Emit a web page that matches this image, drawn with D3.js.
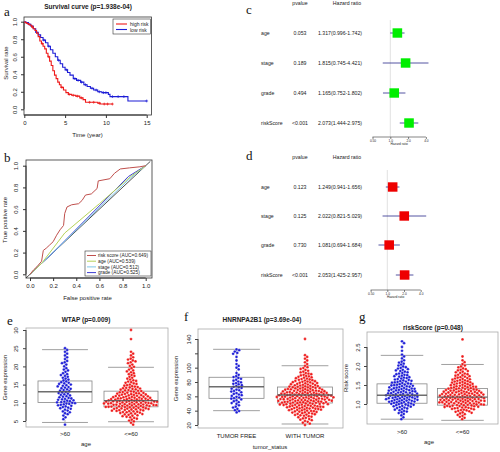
<!DOCTYPE html>
<html><head><meta charset="utf-8">
<script src="https://cdn.jsdelivr.net/npm/d3@7"></script>
<style>body{margin:0;background:#fff}svg{display:block}text{font-family:"Liberation Sans",Arial,sans-serif;fill:#222}</style>
</head><body><svg id="chart" width="500" height="452"></svg>
<script>
// ---------- DATA ----------
// a: Kaplan-Meier steps
const kmHighT = [0,0.1,0.3,0.5,0.7,0.9,1.1,1.3,1.5,1.7,1.9,2.1,2.3,2.5,2.7,2.9,3.1,3.3,3.5,3.7,3.9,4.1,4.3,4.5,4.8,5.1,5.4,5.8,6.3,6.8,7.2,7.5,9.0,9.3,10.8];
const kmHighS = [1,0.99,0.98,0.97,0.96,0.94,0.92,0.9,0.87,0.83,0.78,0.75,0.72,0.69,0.64,0.6,0.55,0.5,0.44,0.39,0.35,0.31,0.28,0.25,0.22,0.19,0.17,0.16,0.15,0.13,0.11,0.08,0.07,0.06,0.06];
const kmLowT = [0,0.2,0.5,0.8,1.1,1.4,1.7,2.0,2.3,2.6,2.9,3.2,3.5,3.8,4.1,4.4,4.7,5.0,5.3,5.6,6.0,6.4,6.9,7.3,7.7,8.1,8.5,9.0,9.5,10.3,10.5,12.7,15];
const kmLowS = [1,0.99,0.97,0.95,0.92,0.88,0.85,0.82,0.79,0.76,0.72,0.68,0.64,0.6,0.56,0.52,0.48,0.45,0.42,0.39,0.35,0.33,0.31,0.28,0.26,0.24,0.22,0.2,0.19,0.17,0.145,0.095,0.095];
const kmHighCensor = [1.0,2.2,3.0,4.6,5.5,6.0,6.5,7.0,8.0,8.5,9.2,9.8,10.2,10.8];
const kmLowCensor = [0.6,1.5,2.4,3.0,4.2,5.2,6.2,6.6,7.0,7.5,8.3,8.8,9.2,9.7,10.0,10.8,11.5,12.2,15.0];
const kmLegend = ["high risk","low risk"];

// b: ROC curves
const rocRiskFpr = [0,0.03,0.06,0.10,0.115,0.14,0.17,0.20,0.23,0.26,0.29,0.30,0.32,0.36,0.42,0.45,0.48,0.53,0.58,0.59,0.69,0.73,0.78,0.86,0.95,1];
const rocRiskTpr = [0,0.04,0.07,0.12,0.22,0.24,0.27,0.30,0.36,0.41,0.45,0.56,0.62,0.64,0.65,0.68,0.73,0.74,0.79,0.86,0.88,0.93,0.97,0.98,0.99,1];
const rocAgeFpr = [0,0.1,0.3,0.6,0.87,1];
const rocAgeTpr = [0,0.1,0.38,0.65,0.9,1];
const rocStageFpr = [0,0.1,0.85,1];
const rocStageTpr = [0,0.1,0.87,1];
const rocGradeFpr = [0,0.2,0.85,1];
const rocGradeTpr = [0,0.2,0.9,1];
const rocLegend = ["risk score (AUC=0.649)","age (AUC=0.539)","stage (AUC=0.512)","grade (AUC=0.525)"];

// c, d: forest plots
const forestVars = ["age","stage","grade","riskScore"];
const cP = ["0.053","0.189","0.494","<0.001"];
const cHR = [1.317,1.815,1.165,2.073];
const cLo = [0.996,0.745,0.752,1.444];
const cHi = [1.742,4.421,1.802,2.975];
const dP = ["0.123","0.125","0.730","<0.001"];
const dHR = [1.249,2.022,1.081,2.053];
const dLo = [0.941,0.821,0.694,1.425];
const dHi = [1.656,5.029,1.684,2.957];
const forestTicks = [0.5,1,2,4];
const forestTickLabels = ["0.50","1.0","2.0","4.0"];

// e: WTAP by age  (bin start, bin step, counts per bin)
const eGroups = [">60","<=60"];
const eBinStart = [4,4]; const eBinStep = 0.5;
const eCountsOver60 = [1,0,0,1,1,1,2,2,2,3,3,4,5,4,4,3,3,3,3,3,3,3,3,3,2,2,2,2,2,1,2,1,1,1,2,1,1,1,1,1,1,1,1];
const eCountsUnder60 = [1,1,2,2,3,4,5,6,8,9,11,12,12,12,10,9,8,7,6,5,5,4,3,3,3,2,2,2,2,2,2,1,2,1,2,2,2,1,1,1,1,0,0,0,0,0,0,1,0,0,0,0,1];
const eBox = [[4.6,10.1,13.05,16,24.6],[4.8,8.9,10.6,13.2,19.75]];
const eTicks = [5,10,15,20,25,30];

// f: HNRNPA2B1 by tumor status
const fGroups = ["TUMOR FREE","WITH TUMOR"];
const fBinStart = [37.5,20]; const fBinStep = 2.5;
const fCountsFree = [1,2,1,2,1,2,2,2,3,2,3,2,3,2,3,2,3,2,2,2,2,1,1,0,1,1,1,1,0,1,0,1,0,2,1,2];
const fCountsTumor = [1,2,2,3,3,4,5,6,7,8,9,10,11,12,12,12,13,12,11,10,9,8,7,6,6,5,4,4,3,3,2,2,2,1,1,1,1,1,1,1,0,0,0,0,0,0,0,0,1];
const fBox = [[40,57.2,73.4,86.6,125.6],[21.4,50.7,61.9,73,102.7]];
const fTicks = [20,40,60,80,100,120,140];
const fTickLabels = ["20","40","60","80","100","","140"];

// g: riskScore by age
const gGroups = [">60","<=60"];
const gBinStart = [0.6,0.6]; const gBinStep = 0.05;
const gCountsOver60 = [1,1,1,2,3,3,4,5,6,7,8,8,8,8,7,7,7,6,6,5,5,4,4,4,3,3,3,3,2,2,2,1,1,1,1,0,1,0,1,0,1,1];
const gCountsUnder60 = [1,2,2,3,4,5,7,9,10,11,11,11,11,10,10,9,8,7,6,6,5,5,4,4,3,3,3,2,2,1,1,1,0,1,0,0,0,0,0,0,0,0,1];
const gBox = [[0.6,1.02,1.23,1.53,2.28],[0.57,0.97,1.18,1.41,2.04]];
const gTicks = [1.0,1.5,2.0,2.5];

// ---------- DRAW ----------
const svg = d3.select("#chart");
const BLUE = "#1c1cd6", RED = "#ee1a1a";
const FS = 6;
const f1 = d3.format(".1f");

function letter(t,x,y){ svg.append("text").attr("x",x).attr("y",y).text(t)
  .style("font-family","'Liberation Serif','DejaVu Serif',serif").style("font-size","13px").style("fill","#111"); }
function title(t,x,y){ svg.append("text").attr("x",x).attr("y",y).attr("text-anchor","middle")
  .style("font-size","6.5px").style("font-weight","bold").text(t); }
function label(t,x,y,rot){ const s=svg.append("text").attr("text-anchor","middle").style("font-size",FS+"px").text(t);
  if(rot) s.attr("transform",`translate(${x},${y}) rotate(-90)`); else s.attr("x",x).attr("y",y); }
function frame(x0,y0,x1,y1,col){ svg.append("rect").attr("x",x0).attr("y",y0).attr("width",x1-x0).attr("height",y1-y0)
  .attr("fill","none").attr("stroke",col).attr("stroke-width",0.8); }
function yAxis(scale,x,ticks,labels,off,col){
  const g=svg.append("g").attr("transform",`translate(${x},0)`)
    .call(d3.axisLeft(scale).tickValues(ticks).tickSize(3).tickSizeOuter(0).tickFormat((d,i)=>labels?labels[i]:d));
  g.select(".domain").attr("stroke",col).attr("d",`M0,${scale(ticks[0])}V${scale(ticks[ticks.length-1])}`);
  g.selectAll(".tick line").attr("stroke",col);
  g.selectAll("text").attr("x",0).attr("dy",0).attr("text-anchor","middle")
    .attr("transform",`translate(${-off},0) rotate(-90)`).style("font-size",FS+"px").style("font-family","'Liberation Sans',Arial").attr("fill","#222");
}
function xAxis(scale,y,ticks,labels,off,col){
  const g=svg.append("g").attr("transform",`translate(0,${y})`)
    .call(d3.axisBottom(scale).tickValues(ticks).tickSize(3).tickSizeOuter(0).tickFormat((d,i)=>labels[i]));
  g.select(".domain").attr("stroke",col).attr("d",`M${scale(ticks[0])},0H${scale(ticks[ticks.length-1])}`);
  g.selectAll(".tick line").attr("stroke",col);
  g.selectAll("text").attr("y",off).attr("dy",0).style("font-size",FS+"px").style("font-family","'Liberation Sans',Arial").attr("fill","#222");
}

// ===== Panel a =====
letter("a",4,16);
title("Survival curve (p=1.938e-04)",88,9);
const ax = d3.scaleLinear([0,15],[24.3,146.7]);
const ay = d3.scaleLinear([0,1],[109.3,21.7]);
const aXT=[0,5,10,15], aYT=[0,0.2,0.4,0.6,0.8,1.0];
frame(24,17,151.5,115,"#333");
xAxis(ax,115,aXT,aXT.map(String),10,"#333");
yAxis(ay,24,aYT,aYT.map(f1),7,"#333");
label("Time (year)",87.5,137);
label("Survival rate",8,63,true);
const stepLine = d3.line().curve(d3.curveStepAfter);
function km(T,S,cens,col){
  svg.append("path").attr("d",stepLine(T.map((t,i)=>[ax(t),ay(S[i])]))).attr("fill","none").attr("stroke",col).attr("stroke-width",1.1);
  cens.forEach(t=>{ let s=S[0]; T.forEach((tt,i)=>{ if(tt<=t) s=S[i]; });
    const x=ax(t), y=ay(s);
    svg.append("path").attr("d",`M${x-1.4},${y}H${x+1.4}M${x},${y-1.4}V${y+1.4}`).attr("stroke",col).attr("stroke-width",0.7); });
}
km(kmLowT,kmLowS,kmLowCensor,BLUE);
km(kmHighT,kmHighS,kmHighCensor,RED);
svg.append("rect").attr("x",113).attr("y",19).attr("width",37.5).attr("height",15).attr("fill","#fff").attr("stroke","#333").attr("stroke-width",0.6);
[RED,BLUE].forEach((c,i)=>{
  svg.append("line").attr("x1",116).attr("x2",127).attr("y1",24+i*5.5).attr("y2",24+i*5.5).attr("stroke",c).attr("stroke-width",1.1);
  svg.append("text").attr("x",130).attr("y",26+i*5.5).style("font-size","5px").text(kmLegend[i]);
});

// ===== Panel b =====
letter("b",4,162);
const bx = d3.scaleLinear([0,1],[30,145.7]);
const by = d3.scaleLinear([0,1],[274.3,165.7]);
frame(26,160,152,278,"#333");
xAxis(bx,278,aYT,aYT.map(f1),10,"#333");
yAxis(by,26,aYT,aYT.map(f1),8,"#333");
label("False positive rate",87.5,300);
label("True positive rate",7,220,true);
const rl = d3.line();
svg.append("line").attr("x1",bx(-0.035)).attr("y1",by(-0.035)).attr("x2",bx(1.04)).attr("y2",by(1.04)).attr("stroke","#222").attr("stroke-width",0.8);
const rocCols = ["#c0504d","#b6d35a","#7fc8e8","#3b3bd0"];
[[rocGradeFpr,rocGradeTpr,3],[rocStageFpr,rocStageTpr,2],[rocAgeFpr,rocAgeTpr,1],[rocRiskFpr,rocRiskTpr,0]].forEach(([F,T,k])=>{
  svg.append("path").attr("d",rl(F.map((f,i)=>[bx(f),by(T[i])]))).attr("fill","none").attr("stroke",rocCols[k]).attr("stroke-width",1);
});
svg.append("rect").attr("x",85).attr("y",251).attr("width",66).attr("height",25).attr("fill","#fff").attr("stroke","#333").attr("stroke-width",0.6);
rocLegend.forEach((t,i)=>{
  const y=255.5+i*5.7;
  svg.append("line").attr("x1",87).attr("x2",96).attr("y1",y).attr("y2",y).attr("stroke",rocCols[i]).attr("stroke-width",1);
  svg.append("text").attr("x",98).attr("y",y+1.7).style("font-size","4.8px").text(t);
});

// ===== Forest plots =====
function forest(opts){
  const {rows,hdrY,xs,P,HR,Lo,Hi,col,lineTop,axisY} = opts;
  svg.append("text").attr("x",300).attr("y",hdrY).attr("text-anchor","middle").style("font-size","5.2px").text("pvalue");
  svg.append("text").attr("x",347).attr("y",hdrY).attr("text-anchor","middle").style("font-size","5.2px").text("Hazard ratio");
  svg.append("line").attr("x1",xs(1)).attr("x2",xs(1)).attr("y1",lineTop).attr("y2",axisY).attr("stroke","#ccc").attr("stroke-width",0.6);
  forestVars.forEach((v,i)=>{
    const y=rows[i];
    svg.append("text").attr("x",261).attr("y",y+1.8).style("font-size","5.2px").text(v);
    svg.append("text").attr("x",300).attr("y",y+1.8).attr("text-anchor","middle").style("font-size","5.2px").text(P[i]);
    svg.append("text").attr("x",340).attr("y",y+1.8).attr("text-anchor","middle").style("font-size","5.2px")
      .text(`${HR[i].toFixed(3)}(${Lo[i].toFixed(3)}-${Hi[i].toFixed(3)})`);
    svg.append("line").attr("x1",xs(Lo[i])).attr("x2",xs(Hi[i])).attr("y1",y).attr("y2",y).attr("stroke","#2a2a8a").attr("stroke-width",0.8);
    svg.append("rect").attr("x",xs(HR[i])-4.8).attr("y",y-4.7).attr("width",9.6).attr("height",9.4).attr("fill",col);
  });
  const g=svg.append("g").attr("transform",`translate(0,${axisY})`)
    .call(d3.axisBottom(xs).tickValues(forestTicks).tickSize(2).tickSizeOuter(0).tickFormat((d,i)=>forestTickLabels[i]));
  g.select(".domain").attr("stroke","#333").attr("stroke-width",0.6).attr("d",`M${xs(0.5)},0H${xs(4)}`);
  g.selectAll(".tick line").attr("stroke","#333").attr("stroke-width",0.6);
  g.selectAll("text").attr("y",3).style("font-size","3.2px").attr("fill","#333");
  svg.append("text").attr("x",xs(1.414)).attr("y",axisY+8).attr("text-anchor","middle").style("font-size","3.2px").text("Hazard ratio");
}
letter("c",246,14);
forest({rows:[33,63,93,123],hdrY:5,xs:d3.scaleLog().base(2).domain([0.5,4]).range([372.5,425.9]),
  P:cP,HR:cHR,Lo:cLo,Hi:cHi,col:"#00ee00",lineTop:20,axisY:137});
letter("d",246,160);
forest({rows:[187,216,245,275],hdrY:159,xs:d3.scaleLog().base(2).domain([0.5,4]).range([370.6,420.7]),
  P:dP,HR:dHR,Lo:dLo,Hi:dHi,col:"#ee0000",lineTop:170,axisY:290});

// ===== Box + beeswarm panels =====
// counts per bin -> values spread evenly inside each bin
function expand(start,step,counts){ const v=[]; counts.forEach((c,i)=>{ for(let k=0;k<c;k++) v.push(start+i*step+step*((k+0.5)/c-0.5)); }); return v; }
function swarm(values,ys,r){
  const pts=values.map(v=>({y:ys(v)})).sort((a,b)=>a.y-b.y); const placed=[];
  pts.forEach(p=>{
    const near=placed.filter(q=>Math.abs(q.y-p.y)<2*r);
    const c=[0]; near.forEach(q=>{const dx=Math.sqrt(Math.max(0,4*r*r-(q.y-p.y)**2)); c.push(q.x+dx+0.01,q.x-dx-0.01);});
    c.sort((a,b)=>Math.abs(a)-Math.abs(b));
    for(const x of c){ if(near.every(q=>(q.x-x)**2+(q.y-p.y)**2>=4*r*r-0.02)){p.x=x;break;} }
    placed.push(p);
  });
  return placed;
}
function boxPanel(o){
  frame(o.fx0,o.fy0,o.fx1,o.fy1,"#aaa");
  title(o.title,o.tx,o.ty);
  yAxis(o.ys,o.fx0,o.ticks,o.tickLabels,o.off,"#444");
  const xs=d3.scalePoint(o.groups,o.centers);
  o.groups.forEach((gname,i)=>{
    const cx=xs(gname), [lo,q1,md,q3,hi]=o.box[i], hw=o.hw, cw=o.hw*0.85;
    svg.append("line").attr("x1",cx).attr("x2",cx).attr("y1",o.ys(hi)).attr("y2",o.ys(q3)).attr("stroke","#999").attr("stroke-width",0.7).attr("stroke-dasharray","2,1.5");
    svg.append("line").attr("x1",cx).attr("x2",cx).attr("y1",o.ys(q1)).attr("y2",o.ys(lo)).attr("stroke","#999").attr("stroke-width",0.7).attr("stroke-dasharray","2,1.5");
    [lo,hi].forEach(v=>svg.append("line").attr("x1",cx-cw).attr("x2",cx+cw).attr("y1",o.ys(v)).attr("y2",o.ys(v)).attr("stroke","#888").attr("stroke-width",0.8));
    svg.append("rect").attr("x",cx-hw).attr("y",o.ys(q3)).attr("width",2*hw).attr("height",o.ys(q1)-o.ys(q3)).attr("fill","#fff").attr("stroke","#888").attr("stroke-width",0.8);
    const vals=expand(o.binStart[i],o.binStep,o.counts[i]);
    const pts=swarm(vals,o.ys,1.4);
    svg.append("g").selectAll("circle").data(pts).join("circle").attr("cx",d=>cx+d.x).attr("cy",d=>d.y).attr("r",1.4)
      .attr("fill",i===0?BLUE:RED).attr("stroke","#fff").attr("stroke-width",0.25);
    svg.append("line").attr("x1",cx-hw).attr("x2",cx+hw).attr("y1",o.ys(md)).attr("y2",o.ys(md)).attr("stroke","#555").attr("stroke-width",1.4).attr("opacity",0.85);
    svg.append("text").attr("x",cx).attr("y",o.xlY).attr("text-anchor","middle").style("font-size",FS+"px").text(gname);
  });
  label(o.xTitle,o.xtX,o.xtY);
  label(o.yTitle,o.ytX,(o.fy0+o.fy1)/2,true);
}
letter("e",7,325);
boxPanel({fx0:26,fy0:328,fx1:168,fy1:427,title:"WTAP (p=0.009)",tx:86,ty:322,
  ys:d3.scaleLinear([5,30],[421,330]),ticks:eTicks,tickLabels:null,off:8,
  groups:eGroups,centers:[65,131],hw:27,box:eBox,binStart:eBinStart,binStep:eBinStep,counts:[eCountsOver60,eCountsUnder60],
  xlY:436,xTitle:"age",xtX:86,xtY:446,yTitle:"Gene expression",ytX:7});
letter("f",184,321);
boxPanel({fx0:198,fy0:329,fx1:343,fy1:428,title:"HNRNPA2B1 (p=3.69e-04)",tx:262,ty:322,
  ys:d3.scaleLinear([20,140],[425,339]),ticks:fTicks,tickLabels:fTickLabels,off:7,
  groups:fGroups,centers:[236.5,305],hw:27.5,box:fBox,binStart:fBinStart,binStep:fBinStep,counts:[fCountsFree,fCountsTumor],
  xlY:438,xTitle:"tumor_status",xtX:270,xtY:449,yTitle:"Gene expression",ytX:178});
letter("g",359,321);
boxPanel({fx0:367,fy0:332,fx1:498,fy1:424,title:"riskScore (p=0.048)",tx:433,ty:330,
  ys:d3.scaleLinear([1,2.5],[404,347]),ticks:gTicks,tickLabels:gTicks.map(f1),off:7.5,
  groups:gGroups,centers:[402,462.5],hw:25,box:gBox,binStart:gBinStart,binStep:gBinStep,counts:[gCountsOver60,gCountsUnder60],
  xlY:434,xTitle:"age",xtX:429,xtY:444,yTitle:"Risk score",ytX:348});
</script></body></html>
